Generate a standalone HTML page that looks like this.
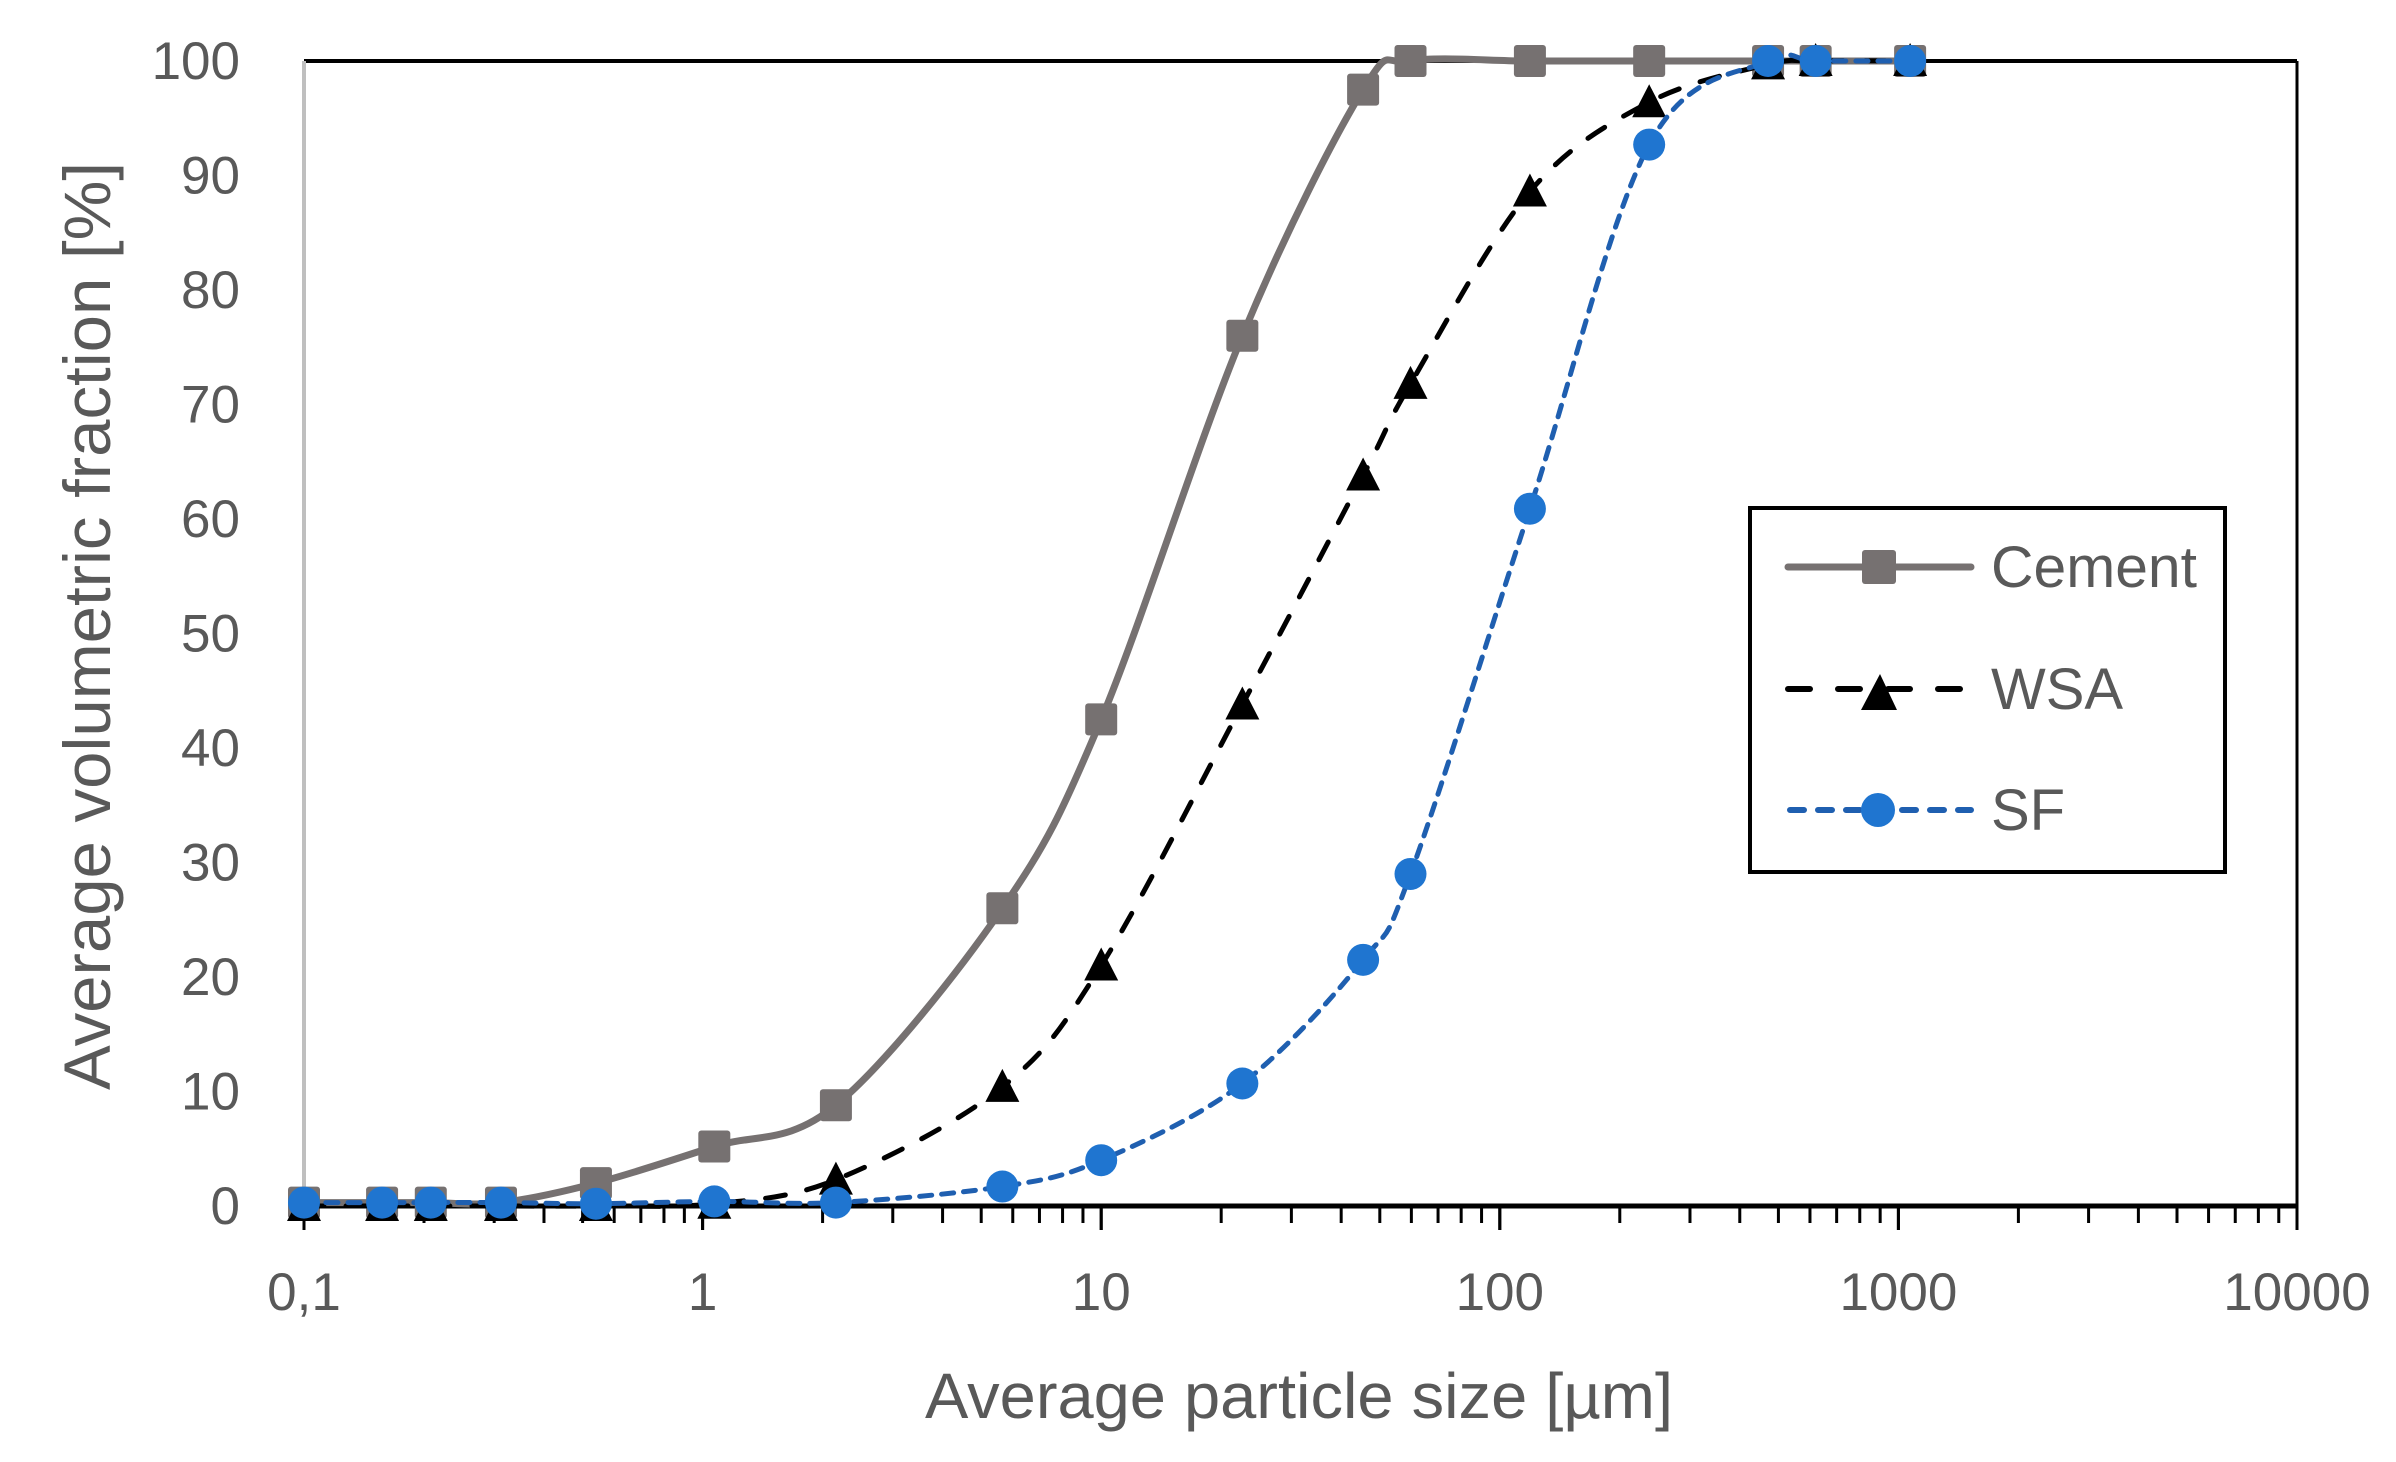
<!DOCTYPE html>
<html><head><meta charset="utf-8"><style>
html,body{margin:0;padding:0;background:#fff;}
svg{display:block;}
text{font-family:"Liberation Sans",sans-serif;fill:#595959;}
</style></head><body>
<svg id="chart" width="2396" height="1462" viewBox="0 0 2396 1462" xmlns="http://www.w3.org/2000/svg">
<g id="axes"></g>
<g id="series"></g>
<g id="legend">
<rect x="1750" y="508" width="475" height="364" fill="#fff" stroke="#000" stroke-width="4"/>
<g>
<line x1="1788" y1="567" x2="1971" y2="567" stroke="#767171" stroke-width="7" stroke-linecap="round"/>
<rect x="1862" y="550" width="34" height="34" rx="3" fill="#767171"/>
<text x="1991" y="587" font-size="58" textLength="206" lengthAdjust="spacingAndGlyphs">Cement</text></g>
<g>
<line x1="1788" y1="689" x2="1971" y2="689" stroke="#000" stroke-width="6" stroke-dasharray="22,28" stroke-linecap="round"/>
<polygon points="1880,674 1897,710 1861,710" fill="#000"/>
<text x="1991" y="709" font-size="58">WSA</text></g>
<g>
<line x1="1790" y1="810" x2="1971" y2="810" stroke="#1f5fb0" stroke-width="6" stroke-dasharray="14,14" stroke-linecap="round"/>
<circle cx="1878" cy="810" r="17" fill="#1f75d0"/>
<text x="1991" y="830" font-size="58">SF</text></g>
</g>
</svg>
<script>
const xValues = [0.1,0.157,0.208,0.312,0.54,1.07,2.16,5.65,10,22.6,45.4,59.7,119,237,471,620,1070];
const cementValues = [0.3,0.3,0.3,0.3,2,5.2,8.8,26,42.5,76,97.5,100,100,100,100,100,100];
const wsaValues = [0,0,0,0,0,0.2,2.3,10.4,21,43.8,63.8,71.8,88.6,96.4,99.7,100,100];
const sfValues = [0.3,0.3,0.3,0.3,0.2,0.4,0.3,1.7,4,10.7,21.5,29,60.9,92.7,100,100,100];
const yTicks = [0,10,20,30,40,50,60,70,80,90,100];
const xTicks = [0.1,1,10,100,1000,10000];
const xTickLabels = ["0,1","1","10","100","1000","10000"];

const L=304,R=2297,T=61,B=1206;
const xs = v => L + (Math.log10(v)+1)/5*(R-L);
const ys = v => B - v/100*(B-T);
const NS="http://www.w3.org/2000/svg";
function mk(tag, attrs, parent){const e=document.createElementNS(NS,tag);for(const k in attrs)e.setAttribute(k,attrs[k]);parent.appendChild(e);return e;}
const ax=document.getElementById('axes'), se=document.getElementById('series');

let e=mk('line',{x1:L,y1:T,x2:R,y2:T,stroke:'#000','stroke-width':4},ax);


e=mk('line',{x1:R,y1:T,x2:R,y2:B,stroke:'#000','stroke-width':3},ax);


e=mk('line',{x1:L,y1:T,x2:L,y2:B,stroke:'#bfbfbf','stroke-width':4},ax);


e=mk('line',{x1:L,y1:B,x2:R,y2:B,stroke:'#000','stroke-width':5},ax);



for(let d=-1; d<4; d++){
  for(let m=1;m<=10;m++){
    const v=m*Math.pow(10,d), x=xs(v);
    const major=(m===1||m===10);
    e=mk('line',{x1:x,y1:B,x2:x,y2:B+(major?24:17),stroke:'#000','stroke-width':3},ax);
    
    
  }
}
xTicks.forEach((v,i)=>{
  const t=mk('text',{x:xs(v),y:1310,'font-size':53,'text-anchor':'middle'},ax);
  t.textContent=xTickLabels[i];
  
  
});
yTicks.forEach(v=>{
  const t=mk('text',{x:240,y:ys(v)+18,'font-size':53,'text-anchor':'end'},ax);
  t.textContent=String(v);
  
  
});
let t=mk('text',{x:1299,y:1418,'font-size':64,'text-anchor':'middle',textLength:748,lengthAdjust:'spacingAndGlyphs'},ax);
t.textContent='Average particle size [µm]';


t=mk('text',{x:0,y:0,'font-size':66,'text-anchor':'middle',textLength:928,lengthAdjust:'spacingAndGlyphs',transform:'translate(110,626) rotate(-90)'},ax);
t.textContent='Average volumetric fraction [%]';



function smooth(pts){
  let d=`M${pts[0][0]},${pts[0][1]}`;
  for(let i=0;i<pts.length-1;i++){
    const p0=pts[Math.max(0,i-1)],p1=pts[i],p2=pts[i+1],p3=pts[Math.min(pts.length-1,i+2)];
    const k=1/6;
    d+=` C${p1[0]+(p2[0]-p0[0])*k},${p1[1]+(p2[1]-p0[1])*k} ${p2[0]-(p3[0]-p1[0])*k},${p2[1]-(p3[1]-p1[1])*k} ${p2[0]},${p2[1]}`;
  }
  return d;
}
function series(vals,name,stroke,dash,width,marker){
  const g=mk('g',{},se);
  
  
  const pts=xValues.map((x,i)=>[xs(x),ys(vals[i])]);
  const p=mk('path',{d:smooth(pts),fill:'none',stroke:stroke,'stroke-width':width,'stroke-dasharray':dash,'stroke-linecap':'round'},g);
  
  
  pts.forEach(([x,y])=>{
    let m;
    if(marker==='square') m=mk('rect',{x:x-16,y:y-16,width:32,height:32,rx:3,fill:'#767171'},g);
    else if(marker==='tri') m=mk('polygon',{points:`${x},${y-18} ${x+17},${y+15} ${x-17},${y+15}`,fill:'#000'},g);
    else m=mk('circle',{cx:x,cy:y,r:16,fill:'#1f75d0'},g);
    
    
  });
}
series(cementValues,'cement','#767171','none',7,'square');
series(wsaValues,'wsa','#000','20,22',5,'tri');
series(sfValues,'sf','#1f5fb0','12,10',5,'circle');
</script>
</body></html>
